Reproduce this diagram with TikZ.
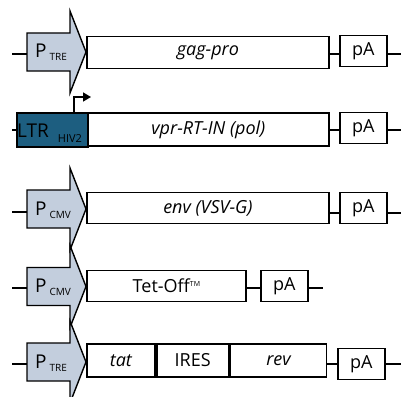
\documentclass[tikz,border=0pt]{standalone}
\usepackage{fontspec}
\setmainfont{Open Sans}
\usetikzlibrary{arrows.meta}
\definecolor{promfill}{HTML}{C3CEDD}
\definecolor{ltrfill}{HTML}{1D5E80}
\tikzset{
  gene/.style={draw, line width=1.8pt, minimum height=32pt, inner sep=0pt, anchor=west,
    font=\fontsize{18}{20}\selectfont},
  pabox/.style={gene, minimum width=47pt, minimum height=31pt},
  wire/.style={line width=1.8pt},
  prom/.style={draw, line width=1.4pt, fill=promfill, line join=miter},
  plabel/.style={inner sep=0pt, anchor=base west},
}
\newcommand\promshape[3]{%
  \draw[prom] (27,#1-19) -- (70,#1-19) -- (70,#1-41) -- (86,#1) -- (70,#1+41) -- (70,#1+19) -- (27,#1+19) -- cycle;
  \coordinate (#2) at (27,#1);
  \node[plabel] (#2lab) at (35,#1+6) {\fontsize{19}{20}\selectfont P\kern3pt\raisebox{-3pt}{\fontsize{10}{10}\selectfont #3}};
}
\begin{document}
\begin{tikzpicture}[x=1pt,y=-1pt]
\useasboundingbox (0,0) rectangle (404,396);
% Row 1
\promshape{52}{p1}{TRE}
\coordinate (s1) at (12,54);
\draw[wire] (s1) -- (s1 -| p1);
\node[gene, minimum width=242pt] (g1) at (86,52.5) {\itshape gag-pro};
\node[pabox] (a1) at (339,51) {pA};
\coordinate (e1) at (401,54);
\draw[wire] (g1.east |- e1) -- (a1.west |- e1);
\draw[wire] (a1.east |- e1) -- (e1);
% Row 2
\coordinate (s2) at (12,130);
\node[gene, minimum width=71pt, minimum height=34pt, fill=ltrfill] (l2) at (16,130) {};
\node[plabel] (l2lab) at (17,137) {\fontsize{19}{20}\selectfont LTR\kern9pt\raisebox{-5pt}{\fontsize{11}{11}\selectfont HIV2}};
\draw[wire] (s2) -- (l2);
\node[gene, minimum width=241pt, minimum height=33pt] (g2) at (87,129.5) {\itshape vpr-RT-IN (pol)};
\node[pabox] (a2) at (339,128) {pA};
\coordinate (e2) at (401,130);
\draw[wire] (g2.east |- e2) -- (a2.west |- e2);
\draw[wire] (a2.east |- e2) -- (e2);
\coordinate (t2) at (74,97);
\coordinate (h2) at (91,97);
\draw[line width=1.5pt, -{Triangle[length=8pt,width=9pt]}] (l2.north west -| t2) -- (t2) -- (h2);
% Row 3
\promshape{209}{p3}{CMV}
\coordinate (s3) at (12,212);
\draw[wire] (s3) -- (s3 -| p3);
\node[gene, minimum width=242pt, minimum height=31pt] (g3) at (86,208) {\itshape env (VSV-G)};
\node[pabox] (a3) at (339,208) {pA};
\coordinate (e3) at (401,213);
\draw[wire] (g3.east |- e3) -- (a3.west |- e3);
\draw[wire] (a3.east |- e3) -- (e3);
% Row 4
\promshape{286.5}{p4}{CMV}
\coordinate (s4) at (12,288);
\draw[wire] (s4) -- (s4 -| p4);
\node[gene, minimum width=159pt, minimum height=31pt] (g4) at (86,286) {Tet-Off\raisebox{6pt}{\fontsize{7}{7}\selectfont TM}};
\node[pabox] (a4) at (260,286) {pA};
\coordinate (e4) at (323,288);
\draw[wire] (g4.east |- e4) -- (a4.west |- e4);
\draw[wire] (a4.east |- e4) -- (e4);
% Row 5
\promshape{362}{p5}{TRE}
\coordinate (s5) at (12,364);
\draw[wire] (s5) -- (s5 -| p5);
\node[gene, minimum width=68pt, minimum height=33pt] (g5a) at (86,360.5) {\itshape tat};
\node[gene, minimum width=72pt, minimum height=33pt] (g5b) at (g5a.east) {IRES};
\node[gene, minimum width=96pt, minimum height=33pt] (g5c) at (g5b.east) {\itshape rev};
\node[pabox] (a5) at (337,364) {pA};
\coordinate (e5) at (401,364);
\draw[wire] (g5c.east |- e5) -- (a5.west |- e5);
\draw[wire] (a5.east |- e5) -- (e5);
\end{tikzpicture}
\end{document}
